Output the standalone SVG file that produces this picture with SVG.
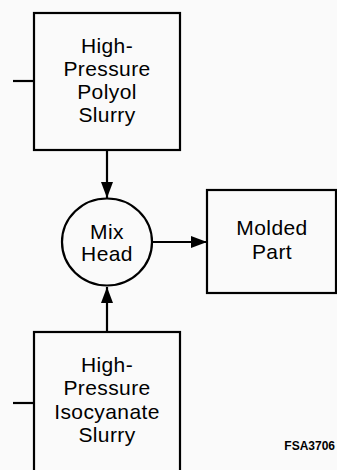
<svg xmlns="http://www.w3.org/2000/svg" width="337" height="470" viewBox="0 0 337 470">
<style>
.b{fill:none;stroke:#000;stroke-width:2.2}
.l{fill:none;stroke:#000;stroke-width:2.2}
text{font-family:"Liberation Sans",Arial,sans-serif;font-size:21px;letter-spacing:0.4px;fill:#000;text-anchor:middle}
.id{font-size:12px;font-weight:bold;letter-spacing:0;text-anchor:end}
</style>
<defs>
<marker id="ah" viewBox="0 0 16 12" refX="16" refY="6" markerWidth="16" markerHeight="12" markerUnits="userSpaceOnUse" orient="auto">
<path d="M0,0 L16,6 L0,12 Z" fill="#000"/>
</marker>
</defs>
<rect width="337" height="470" fill="#fafafa"/>
<g id="polyol">
<rect class="b" x="34" y="13" width="146" height="137"/>
<text x="107" y="53">High-</text>
<text x="107" y="76">Pressure</text>
<text x="107" y="98.5">Polyol</text>
<text x="107" y="121.5">Slurry</text>
</g>
<g id="mixhead">
<ellipse class="b" cx="107" cy="242" rx="45" ry="43.5"/>
<text x="107" y="238.5">Mix</text>
<text x="107" y="261">Head</text>
</g>
<g id="molded">
<rect class="b" x="207" y="190" width="129" height="103"/>
<text x="272" y="235">Molded</text>
<text x="272" y="258.5">Part</text>
</g>
<g id="isocyanate">
<rect class="b" x="34" y="332" width="146" height="145"/>
<text x="107" y="372">High-</text>
<text x="107" y="395">Pressure</text>
<text x="107" y="418.5">Isocyanate</text>
<text x="107" y="441.5">Slurry</text>
</g>
<g id="connectors">
<line class="l" x1="13" y1="81" x2="34" y2="81"/>
<line class="l" x1="13" y1="403" x2="34" y2="403"/>
<line class="l" x1="107" y1="150" x2="107" y2="198" marker-end="url(#ah)"/>
<line class="l" x1="152" y1="242" x2="207" y2="242" marker-end="url(#ah)"/>
<line class="l" x1="107" y1="332" x2="107" y2="287" marker-end="url(#ah)"/>
</g>
<text class="id" x="335" y="450">FSA3706</text>
</svg>
